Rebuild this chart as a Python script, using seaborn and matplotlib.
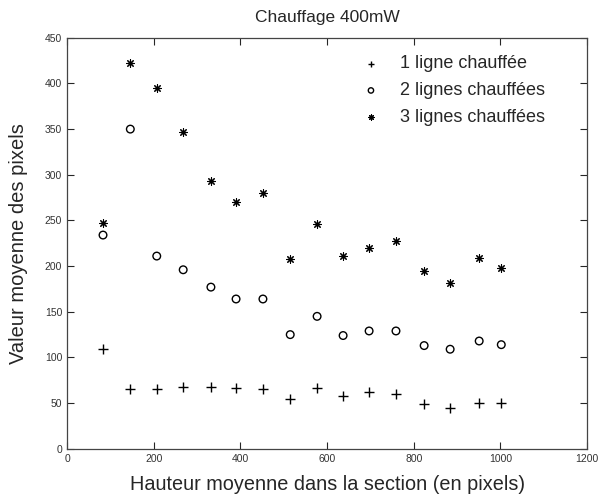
import numpy as np
import pandas as pd
import matplotlib
matplotlib.use('Agg')
import matplotlib.pyplot as plt
import seaborn as sns

# hauteur moyenne (x) et valeurs moyennes par nombre de lignes chauffees
hauteur = [83, 146, 207, 268, 332, 390, 452, 515, 577, 637, 697, 759, 824, 884, 951, 1002]
une_ligne = [109, 66, 65, 68, 68, 67, 65, 54, 67, 58, 62, 60, 49, 45, 50, 50]
deux_lignes = [234, 350, 211, 196, 177, 164, 164, 125, 145, 124, 129, 129, 113, 109, 118, 114]
trois_lignes = [247, 422, 395, 347, 293, 270, 280, 208, 246, 211, 220, 228, 195, 182, 209, 198]
series_names = ['1 ligne chauffée', '2 lignes chauffées', '3 lignes chauffées']

df = pd.DataFrame({'x': hauteur, 'y1': une_ligne, 'y2': deux_lignes, 'y3': trois_lignes})

sns.set_style('white')
plt.rcParams['font.family'] = ['Liberation Sans', 'DejaVu Sans']

fig = plt.figure(figsize=(6.04, 4.97), dpi=100)
ax = fig.add_axes([0.111, 0.097, 0.861, 0.827])

sns.scatterplot(data=df, x='x', y='y1', marker='+', color='black', s=50, linewidth=1,
                label=series_names[0], ax=ax)
sns.scatterplot(data=df, x='x', y='y2', marker='o', facecolors='none', edgecolor='black',
                s=30, linewidth=1, label=series_names[1], ax=ax)
# asterisque style matlab (8 branches)
sns.scatterplot(data=df, x='x', y='y3', marker=(8, 2, 0), color='black', s=30, linewidth=0.8,
                label=series_names[2], ax=ax)

ax.set_xlim(0, 1200)
ax.set_ylim(0, 450)
ax.set_xticks(np.arange(0, 1201, 200))
ax.set_yticks(np.arange(0, 451, 50))
ax.tick_params(direction='in', top=True, right=True, length=5, width=0.8,
               labelsize=7.5, labelcolor='#333333', bottom=True, left=True)
for sp in ax.spines.values():
    sp.set_color('#444444')
    sp.set_linewidth(0.9)

ax.set_title('Chauffage 400mW', fontsize=12.5, pad=11)
ax.set_xlabel('Hauteur moyenne dans la section (en pixels)', fontsize=14.3, labelpad=8)
ax.set_ylabel('Valeur moyenne des pixels', fontsize=14.5, labelpad=12)

leg = ax.legend(loc='upper right', bbox_to_anchor=(0.95, 0.997), frameon=False, fontsize=13,
                handletextpad=0.6, labelspacing=0.55, markerscale=0.7)

fig.savefig('out.png', dpi=100)
